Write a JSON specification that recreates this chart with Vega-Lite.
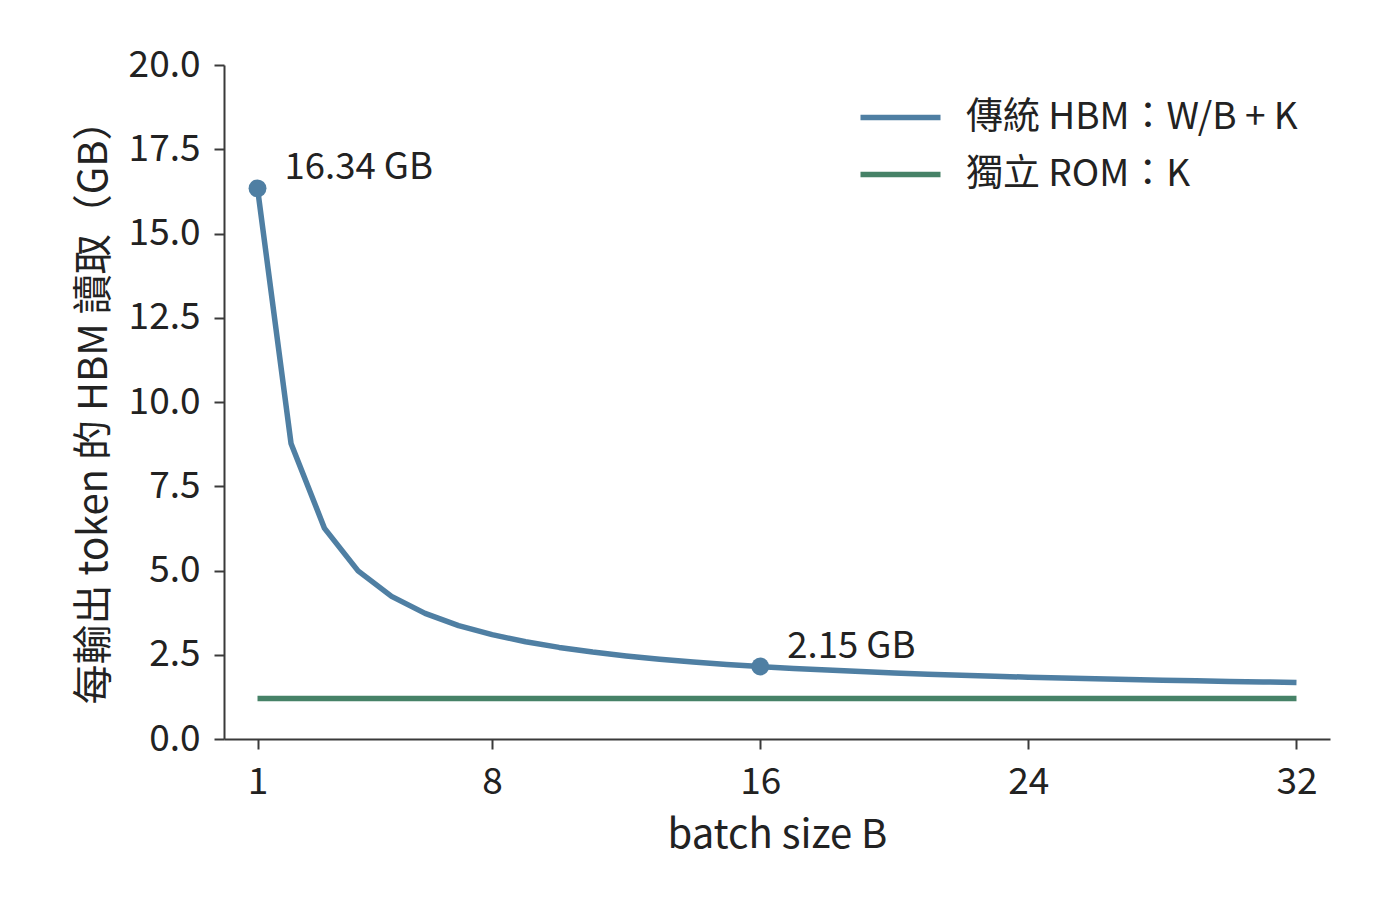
{
  "$schema": "https://vega.github.io/schema/vega-lite/v6.json",
  "width": 1106,
  "height": 674,
  "autosize": "none",
  "padding": {"left": 224, "top": 65, "right": 70, "bottom": 173},
  "background": "white",
  "config": {
    "font": "Noto Sans CJK TC",
    "view": {"stroke": null},
    "axis": {
      "grid": false,
      "domainColor": "#3a3a3a",
      "domainWidth": 2,
      "tickColor": "#3a3a3a",
      "tickWidth": 2,
      "tickSize": 10,
      "labelFont": "Noto Sans CJK TC",
      "labelFontSize": 37,
      "labelColor": "#222222",
      "titleFont": "Noto Sans CJK TC",
      "titleFontSize": 40,
      "titleFontWeight": "normal",
      "titleColor": "#222222"
    }
  },
  "datasets": {
    "curves": [
      {"B": 1, "GB": 16.34, "series": "傳統 HBM：W/B + K"},
      {"B": 2, "GB": 8.772, "series": "傳統 HBM：W/B + K"},
      {"B": 3, "GB": 6.249, "series": "傳統 HBM：W/B + K"},
      {"B": 4, "GB": 4.988, "series": "傳統 HBM：W/B + K"},
      {"B": 5, "GB": 4.231, "series": "傳統 HBM：W/B + K"},
      {"B": 6, "GB": 3.727, "series": "傳統 HBM：W/B + K"},
      {"B": 7, "GB": 3.366, "series": "傳統 HBM：W/B + K"},
      {"B": 8, "GB": 3.096, "series": "傳統 HBM：W/B + K"},
      {"B": 9, "GB": 2.886, "series": "傳統 HBM：W/B + K"},
      {"B": 10, "GB": 2.718, "series": "傳統 HBM：W/B + K"},
      {"B": 11, "GB": 2.58, "series": "傳統 HBM：W/B + K"},
      {"B": 12, "GB": 2.465, "series": "傳統 HBM：W/B + K"},
      {"B": 13, "GB": 2.368, "series": "傳統 HBM：W/B + K"},
      {"B": 14, "GB": 2.285, "series": "傳統 HBM：W/B + K"},
      {"B": 15, "GB": 2.213, "series": "傳統 HBM：W/B + K"},
      {"B": 16, "GB": 2.15, "series": "傳統 HBM：W/B + K"},
      {"B": 17, "GB": 2.094, "series": "傳統 HBM：W/B + K"},
      {"B": 18, "GB": 2.045, "series": "傳統 HBM：W/B + K"},
      {"B": 19, "GB": 2.001, "series": "傳統 HBM：W/B + K"},
      {"B": 20, "GB": 1.961, "series": "傳統 HBM：W/B + K"},
      {"B": 21, "GB": 1.925, "series": "傳統 HBM：W/B + K"},
      {"B": 22, "GB": 1.892, "series": "傳統 HBM：W/B + K"},
      {"B": 23, "GB": 1.862, "series": "傳統 HBM：W/B + K"},
      {"B": 24, "GB": 1.835, "series": "傳統 HBM：W/B + K"},
      {"B": 25, "GB": 1.809, "series": "傳統 HBM：W/B + K"},
      {"B": 26, "GB": 1.786, "series": "傳統 HBM：W/B + K"},
      {"B": 27, "GB": 1.765, "series": "傳統 HBM：W/B + K"},
      {"B": 28, "GB": 1.745, "series": "傳統 HBM：W/B + K"},
      {"B": 29, "GB": 1.726, "series": "傳統 HBM：W/B + K"},
      {"B": 30, "GB": 1.709, "series": "傳統 HBM：W/B + K"},
      {"B": 31, "GB": 1.692, "series": "傳統 HBM：W/B + K"},
      {"B": 32, "GB": 1.677, "series": "傳統 HBM：W/B + K"},
      {"B": 1, "GB": 1.204, "series": "獨立 ROM：K"},
      {"B": 32, "GB": 1.204, "series": "獨立 ROM：K"}
    ],
    "marks": [
      {"B": 1, "GB": 16.34, "label": "16.34 GB"},
      {"B": 16, "GB": 2.15, "label": "2.15 GB"}
    ]
  },
  "layer": [
    {
      "data": {"name": "curves"},
      "mark": {"type": "line", "strokeWidth": 5.5, "strokeCap": "butt", "strokeJoin": "round"},
      "encoding": {
        "x": {
          "field": "B",
          "type": "quantitative",
          "scale": {"domain": [0, 33], "nice": false, "zero": false},
          "axis": {"values": [1, 8, 16, 24, 32], "title": "batch size B", "labelPadding": 15, "titlePadding": 15}
        },
        "y": {
          "field": "GB",
          "type": "quantitative",
          "scale": {"domain": [0, 20], "nice": false},
          "axis": {"values": [0, 2.5, 5, 7.5, 10, 12.5, 15, 17.5, 20], "format": ".1f", "title": "每輸出 token 的 HBM 讀取（GB）", "labelPadding": 14, "titlePadding": 14}
        },
        "color": {
          "field": "series",
          "type": "nominal",
          "scale": {"domain": ["傳統 HBM：W/B + K", "獨立 ROM：K"], "range": ["#4f7fa3", "#468267"]},
          "legend": {
            "title": null,
            "orient": "none",
            "legendX": 628,
            "legendY": 34,
            "symbolType": "M-1,0H7",
            "symbolSize": 400,
            "symbolStrokeWidth": 5.5,
            "labelFont": "Noto Sans CJK TC",
            "labelFontSize": 37,
            "labelColor": "#222222",
            "labelOffset": 77,
            "labelLimit": 0,
            "rowPadding": 19,
            "padding": 0
          }
        }
      }
    },
    {
      "data": {"name": "marks"},
      "mark": {"type": "point", "filled": true, "size": 320, "opacity": 1, "color": "#4f7fa3"},
      "encoding": {
        "x": {"field": "B", "type": "quantitative"},
        "y": {"field": "GB", "type": "quantitative"}
      }
    },
    {
      "data": {"name": "marks"},
      "mark": {"type": "text", "align": "left", "baseline": "middle", "dx": 27, "dy": -20, "fontSize": 36.5, "color": "#222222", "font": "Noto Sans CJK TC"},
      "encoding": {
        "x": {"field": "B", "type": "quantitative"},
        "y": {"field": "GB", "type": "quantitative"},
        "text": {"field": "label"}
      }
    }
  ]
}
